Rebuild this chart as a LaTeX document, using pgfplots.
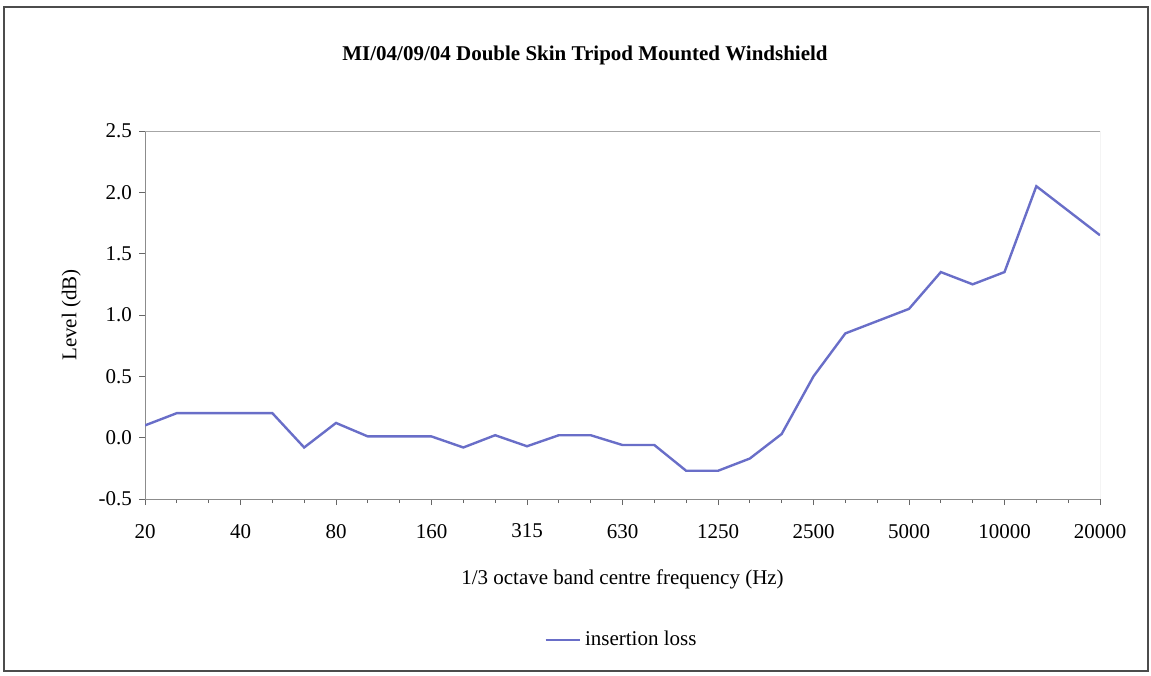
\documentclass[border=0pt]{standalone}
\usepackage{pgfplots}
\pgfplotsset{compat=1.18}
\usepackage{fontspec}
\setmainfont{Liberation Serif}
\definecolor{ln}{RGB}{105,110,200}
\begin{document}
\begin{tikzpicture}[x=0.5pt,y=0.5pt]
\draw[black!70,line width=0.6pt] (4,4) rectangle (1148,668);
\path (0,0) rectangle (1151,675);
\node[font=\bfseries\fontsize{10.5}{12}\selectfont] at (585,620) {MI/04/09/04 Double Skin Tripod Mounted Windshield};
\begin{axis}[at={(72.5pt,88pt)},anchor=south west,scale only axis,
 width=477.5pt,height=184pt,
 xmin=0,xmax=30,ymin=-0.5,ymax=2.5,
 xtick={0,3,...,30},
 xticklabels={20,40,80,160,315,630,1250,2500,5000,10000,20000},
 minor xtick={0,...,30},
 ytick={-0.5,0,...,2.5},
 yticklabel style={/pgf/number format/.cd,fixed,fixed zerofill,precision=1},
 /pgf/number format/assume math mode=true,
 tick label style={font=\fontsize{10.5}{12}\selectfont},
 xticklabel style={yshift=-6pt},
 axis line style={black!45},
 axis x line*=bottom, axis y line*=left,
 tick align=outside, major tick length=3pt, minor tick length=2pt,
 every tick/.style={black!60},
 xlabel={1/3 octave band centre frequency (Hz)},
 ylabel={Level (dB)},
 xlabel style={yshift=-9pt},
 ylabel style={yshift=2pt},
 label style={font=\fontsize{10.5}{12}\selectfont},
 legend style={at={(0.5,-0.383)},anchor=center,draw=none,font=\fontsize{10.5}{12}\selectfont},
 legend cell align=left,
]
\draw[black!35] (axis cs:0,2.5) -- (axis cs:30,2.5) -- (axis cs:30,-0.5);
\addplot[ln,line width=1.2pt] coordinates {
(0,0.1)(1,0.2)(2,0.2)(3,0.2)(4,0.2)(5,-0.08)(6,0.12)(7,0.01)(8,0.01)(9,0.01)
(10,-0.08)(11,0.02)(12,-0.07)(13,0.02)(14,0.02)(15,-0.06)(16,-0.06)(17,-0.27)
(18,-0.27)(19,-0.17)(20,0.03)(21,0.5)(22,0.85)(23,0.95)(24,1.05)(25,1.35)
(26,1.25)(27,1.35)(28,2.05)(29,1.85)(30,1.65)};
\addlegendentry{insertion loss}
\end{axis}
\end{tikzpicture}
\end{document}
